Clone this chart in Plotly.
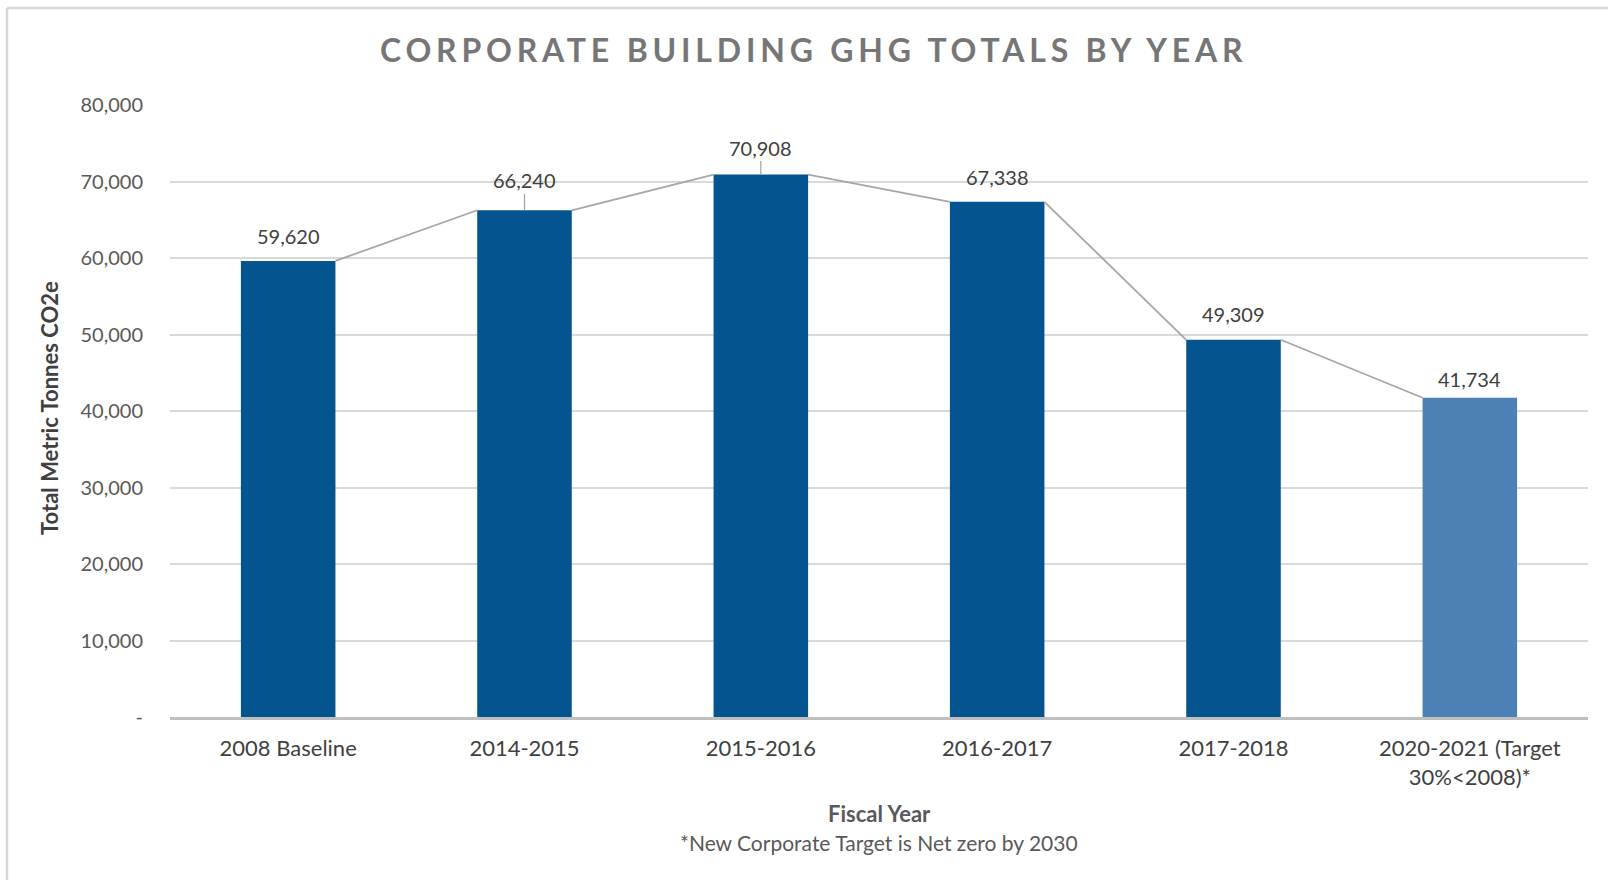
import plotly.graph_objects as go

# Chart data
categories = ["2008 Baseline", "2014-2015", "2015-2016", "2016-2017", "2017-2018",
              "2020-2021 (Target<br>30%&lt;2008)*"]
ghg_totals = [59620, 66240, 70908, 67338, 49309, 41734]
y_ticks = [0, 10000, 20000, 30000, 40000, 50000, 60000, 70000, 80000]
y_tick_labels = ["-", "10,000", "20,000", "30,000", "40,000", "50,000", "60,000", "70,000", "80,000"]

# Styling
W, H = 1608, 880
M_L, M_R, M_T, M_B = 170, 20, 105, 163
BAR_W = 0.4
DARK = "#03548F"
LIGHT = "#4D81B6"
bar_colors = [DARK] * 5 + [LIGHT]
label_offsets = [25, 30, 27, 25, 26, 19]       # label centre above bar top, px
leader_lines = [False, True, True, False, False, False]
FONT = "Lato, Calibri, Carlito, 'Open Sans', sans-serif"

x_pos = list(range(len(categories)))

fig = go.Figure()

fig.add_trace(go.Bar(
    x=x_pos, y=ghg_totals, width=BAR_W,
    marker=dict(color=bar_colors, line=dict(width=0)),
    hoverinfo="skip", showlegend=False,
))

# Series lines joining the top corners of adjacent bars
for i in range(len(ghg_totals) - 1):
    fig.add_trace(go.Scatter(
        x=[x_pos[i] + BAR_W / 2, x_pos[i + 1] - BAR_W / 2],
        y=[ghg_totals[i], ghg_totals[i + 1]],
        mode="lines", line=dict(color="#A6A6A6", width=1.8),
        hoverinfo="skip", showlegend=False,
    ))

annotations = []
for i, v in enumerate(ghg_totals):
    if leader_lines[i]:
        annotations.append(dict(
            x=x_pos[i], y=v, xref="x", yref="y", text=f"{v:,}",
            showarrow=True, arrowhead=0, arrowwidth=1.3, arrowcolor="#A6A6A6",
            ax=0, ay=-label_offsets[i], standoff=0,
            font=dict(family=FONT, size=20, color="#404040"),
        ))
    else:
        annotations.append(dict(
            x=x_pos[i], y=v, xref="x", yref="y", text=f"{v:,}",
            showarrow=False, yanchor="middle", yshift=label_offsets[i],
            font=dict(family=FONT, size=20, color="#404040"),
        ))

# Axis titles and footnote
annotations.append(dict(
    x=0.5, y=0, xref="paper", yref="paper", text="<b>Fiscal Year</b>",
    showarrow=False, yanchor="middle", yshift=-96,
    font=dict(family=FONT, size=22, color="#595959"),
))
annotations.append(dict(
    x=0.5, y=0, xref="paper", yref="paper",
    text="*New Corporate Target is Net zero by 2030",
    showarrow=False, yanchor="middle", yshift=-125,
    font=dict(family=FONT, size=21, color="#595959"),
))
annotations.append(dict(
    x=0, y=0.5, xref="paper", yref="paper", text="<b>Total Metric Tonnes CO2e</b>",
    showarrow=False, textangle=-90, xanchor="center", yanchor="middle",
    xshift=49 - M_L, yshift=3,
    font=dict(family=FONT, size=22, color="#404040"),
))

pw = W - M_L - M_R
ph = H - M_T - M_B
def px_x(p):
    return (p - M_L) / pw
def px_y(p):
    return (H - M_B - p) / ph

shapes = [
    # light frame around the chart
    dict(type="line", xref="paper", yref="paper",
         x0=px_x(7), x1=px_x(7), y0=px_y(8), y1=px_y(880),
         line=dict(color="#D9D9D9", width=2.5)),
    dict(type="line", xref="paper", yref="paper",
         x0=px_x(7), x1=px_x(1608), y0=px_y(8), y1=px_y(8),
         line=dict(color="#D9D9D9", width=2.5)),
]

fig.update_layout(
    width=W, height=H,
    margin=dict(l=M_L, r=M_R, t=M_T, b=M_B, pad=0),
    paper_bgcolor="white", plot_bgcolor="white",
    title=dict(
        text="<b>CORPORATE BUILDING GHG TOTALS BY YEAR</b>",
        x=0.506, xref="container", xanchor="center",
        y=1 - 51 / H, yref="container", yanchor="middle",
        font=dict(family=FONT, size=32, color="#767676"),
    ),
    bargap=0.6,
    annotations=annotations,
    shapes=shapes,
)

fig.update_xaxes(
    range=[-0.5, len(categories) - 0.5],
    tickvals=x_pos, ticktext=categories,
    showgrid=False, zeroline=False,
    showline=True, linecolor="#BFBFBF", linewidth=2.5,
    ticks="", ticklabelstandoff=10,
    tickfont=dict(family=FONT, size=22, color="#404040"),
)
fig.update_yaxes(
    range=[0, 80000],
    tickvals=y_ticks, ticktext=y_tick_labels,
    showgrid=True, gridcolor="#D9D9D9", gridwidth=1.5,
    zeroline=False, showline=False, ticks="",
    ticklabelstandoff=26,
    tickfont=dict(family=FONT, size=20, color="#595959"),
)

# Widen the title's letter spacing once the plot is drawn
title_spacing_js = (
    "var t = document.querySelector('.gtitle');"
    "if (t) { t.style.letterSpacing = '4.8px'; }"
)

fig.write_html("out.html", post_script=title_spacing_js)
